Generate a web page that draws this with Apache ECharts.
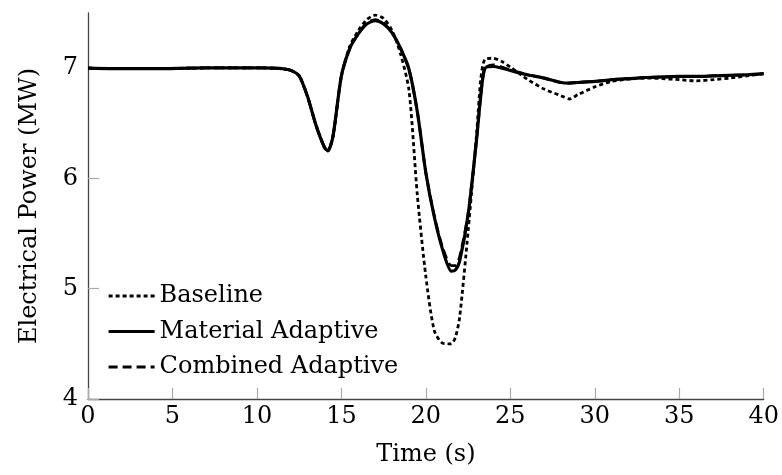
<!DOCTYPE html>
<html>
<head>
<meta charset="utf-8">
<script src="https://cdn.jsdelivr.net/npm/echarts@6/dist/echarts.min.js"></script>
<style>html,body{margin:0;padding:0;background:#fff;}#chart{width:782px;height:475px;}</style>
</head>
<body>
<div id="chart"></div>
<script>
const times = [0,2,4,6,8,10,11,11.5,12,12.5,13,13.5,14,14.2,14.5,15,15.5,16,16.5,17,17.5,18,18.5,19,19.5,20,20.5,21,21.5,21.75,22,22.5,23,23.25,23.5,24,24.5,25,26,27,28,28.5,29,30,31,32,33,34,35,36,37,38,39,40];
const baseline = [7.0,6.995,6.995,7.0,7.003,7.003,7.0,6.995,6.98,6.93,6.74,6.48,6.28,6.25,6.38,6.93,7.2,7.34,7.44,7.48,7.45,7.34,7.13,6.8,5.84,5.11,4.62,4.505,4.5,4.56,4.74,5.52,6.4,6.9,7.08,7.09,7.06,7.01,6.9,6.81,6.75,6.72,6.76,6.83,6.88,6.9,6.91,6.905,6.895,6.885,6.895,6.91,6.93,6.95];
const material = [7.0,6.995,6.995,7.0,7.003,7.003,7.0,6.995,6.98,6.93,6.74,6.48,6.28,6.25,6.38,6.93,7.18,7.31,7.40,7.43,7.40,7.32,7.18,6.99,6.60,6.05,5.65,5.35,5.16,5.17,5.25,5.67,6.35,6.75,7.0,7.015,7.0,6.98,6.94,6.91,6.87,6.865,6.87,6.88,6.895,6.905,6.915,6.92,6.925,6.925,6.93,6.935,6.94,6.95];
const combined = [7.0,6.995,6.995,7.0,7.003,7.003,7.0,6.995,6.98,6.93,6.74,6.48,6.28,6.25,6.38,6.93,7.18,7.31,7.41,7.44,7.41,7.32,7.18,6.99,6.60,6.05,5.66,5.37,5.21,5.21,5.29,5.68,6.35,6.75,7.0,7.03,7.01,6.98,6.94,6.91,6.87,6.865,6.87,6.88,6.895,6.905,6.915,6.92,6.925,6.925,6.93,6.935,6.94,6.95];
const xTicks = [0,5,10,15,20,25,30,35,40];
const yTicks = [4,5,6,7];
const seriesNames = ['Baseline','Material Adaptive','Combined Adaptive'];

const FONT = 'DejaVu Serif';
const pairs = vals => times.map((t,i)=>[t, vals[i]]);
const chart = echarts.init(document.getElementById('chart'), null, {renderer:'canvas'});
const lineSeries = (name, vals, type, w) => ({
  name, type:'line', data: pairs(vals), symbol:'none', smooth:0.25,
  lineStyle:{color:'#000', width:w, type:type, cap:'butt'}, itemStyle:{color:'#000'},
  animation:false
});
chart.setOption({
  animation:false,
  backgroundColor:'#fff',
  grid:{left:88, right:17, top:13, bottom:76, containLabel:false},
  legend:{
    orient:'vertical', left:107, top:281, padding:0, itemGap:5.5,
    itemWidth:46, itemHeight:14, align:'left',
    itemStyle:{color:'rgba(0,0,0,0)', borderWidth:0, opacity:0},
    lineStyle:{width:3.2},
    textStyle:{fontFamily:FONT, fontSize:24, color:'#000', lineHeight:30},
    data: seriesNames
  },
  xAxis:{
    type:'value', min:0, max:40, interval:5,
    name:'Time (s)', nameLocation:'middle', nameGap:44,
    nameTextStyle:{fontFamily:FONT, fontSize:24, color:'#000'},
    axisLine:{show:true, lineStyle:{color:'#444', width:1.3}},
    axisTick:{show:true, inside:true, length:11, lineStyle:{color:'#aaa', width:1.2}, customValues:xTicks},
    axisLabel:{fontFamily:FONT, fontSize:24, color:'#000', margin:6, customValues:xTicks},
    splitLine:{show:false}
  },
  yAxis:{
    type:'value', min:4, max:7.5, interval:1,
    name:'Electrical Power (MW)', nameLocation:'middle', nameGap:46, nameRotate:90,
    nameTextStyle:{fontFamily:FONT, fontSize:24, color:'#000'},
    axisLine:{show:true, lineStyle:{color:'#444', width:1.3}},
    axisTick:{show:true, inside:true, length:11, lineStyle:{color:'#aaa', width:1.2}, customValues:yTicks},
    axisLabel:{fontFamily:FONT, fontSize:24, color:'#000', margin:10, customValues:yTicks},
    splitLine:{show:false}
  },
  series:[
    lineSeries(seriesNames[0], baseline, [4,3], 2.8),
    lineSeries(seriesNames[1], material, 'solid', 3.2),
    lineSeries(seriesNames[2], combined, [9,5], 2.8)
  ]
});
</script>
</body>
</html>
